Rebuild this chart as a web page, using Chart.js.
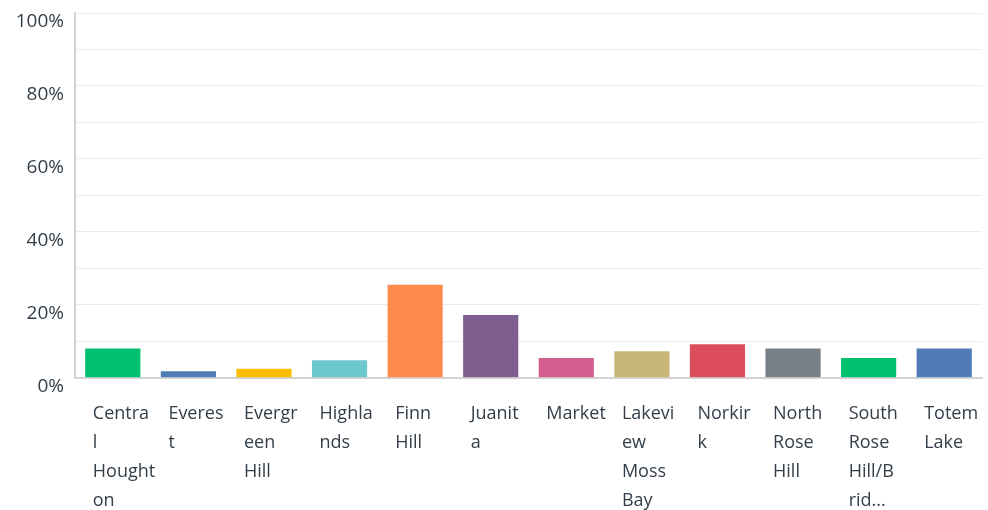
<!DOCTYPE html>
<html>
<head>
<meta charset="utf-8">
<script src="https://cdn.jsdelivr.net/npm/chart.js@4/dist/chart.umd.min.js"></script>
<style>
  html, body { margin: 0; padding: 0; background: #fff; overflow: hidden; }
  #wrap { position: absolute; left: 0; top: 0; width: 988px; height: 537px; }
</style>
</head>
<body>
<div id="wrap"><canvas id="c" width="988" height="537"></canvas></div>
<script>
const categories = ["Central Houghton", "Everest", "Evergreen Hill", "Highlands", "Finn Hill", "Juanita", "Market", "Lakeview Moss Bay", "Norkirk", "North Rose Hill", "South Rose Hill/Bridle Trails", "Totem Lake"];
const xTickLabels = [
  ["Centra", "l", "Hought", "on"],
  ["Everes", "t"],
  ["Evergr", "een", "Hill"],
  ["Highla", "nds"],
  ["Finn", "Hill"],
  ["Juanit", "a"],
  ["Market"],
  ["Lakevi", "ew", "Moss", "Bay"],
  ["Norkir", "k"],
  ["North", "Rose", "Hill"],
  ["South", "Rose", "Hill/B", "rid..."],
  ["Totem", "Lake"]
];
const percentValues = [8.0, 1.8, 2.5, 4.8, 25.5, 17.2, 5.4, 7.3, 9.2, 8.0, 5.4, 8.0];
const barColors = ["#00bf6f", "#507cb6", "#f9be00", "#6bc8cd", "#ff8b4f", "#7f5f90", "#d25f90", "#c9b77a", "#db4d5c", "#787f87", "#00bf6f", "#507cb6"];
const yTickLabels = ["0%", "20%", "40%", "60%", "80%", "100%"];

const textColor = "#333e48";
const fontFamily = "'Open Sans', sans-serif";

new Chart(document.getElementById("c"), {
  type: "bar",
  data: {
    labels: xTickLabels,
    datasets: [{
      label: "Responses",
      data: percentValues,
      backgroundColor: barColors,
      borderWidth: 0,
      barPercentage: 0.73,
      categoryPercentage: 1.0
    }]
  },
  options: {
    responsive: false,
    animation: false,
    layout: { padding: { top: 13, right: 6, left: 0, bottom: 0 } },
    plugins: { legend: { display: false }, tooltip: { enabled: false } },
    scales: {
      x: {
        afterFit: (s) => { s.paddingLeft = 0; s.paddingRight = 0; },
        grid: { display: false, drawTicks: false },
        border: { display: true, color: "#d3d3d3", width: 2 },
        ticks: {
          align: "start",
          labelOffset: -20,
          padding: 22,
          maxRotation: 0,
          autoSkip: false,
          color: textColor,
          font: { family: fontFamily, size: 18, lineHeight: 1.6 }
        }
      },
      y: {
        min: 0,
        max: 100,
        afterFit: (s) => { s.width = 75; s.paddingTop = 0; s.paddingBottom = 0; },
        grid: { color: "#ebebeb", lineWidth: 1, drawTicks: false },
        border: { display: true, color: "#d3d3d3", width: 2 },
        ticks: {
          stepSize: 10,
          padding: 11,
          labelOffset: 9,
          color: textColor,
          font: { family: fontFamily, size: 19 },
          callback: (v) => (v % 20 === 0 ? yTickLabels[v / 20] : "")
        }
      }
    }
  }
});
</script>
</body>
</html>
